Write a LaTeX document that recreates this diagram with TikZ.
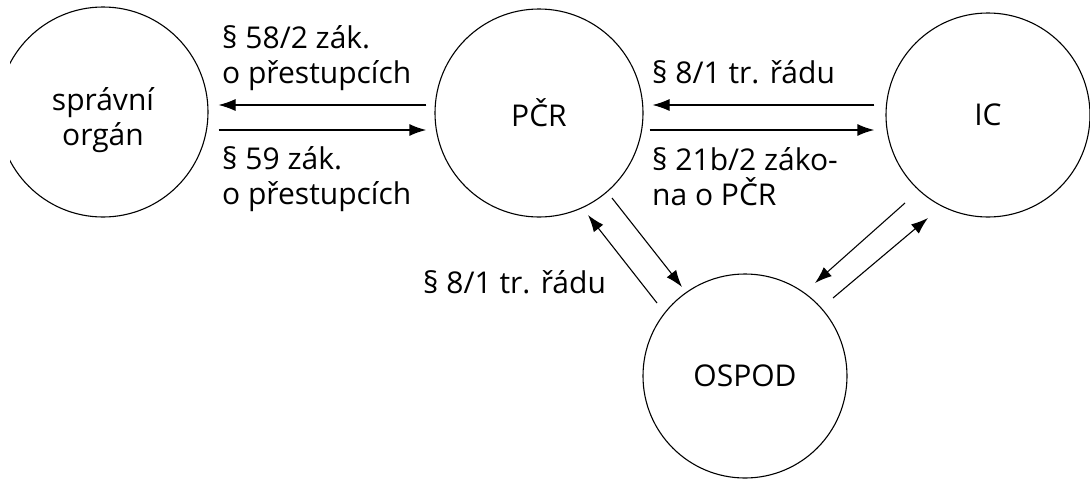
\documentclass[tikz,border=0pt]{standalone}
\usepackage{fontspec}
\setmainfont{Open Sans}
\usetikzlibrary{arrows.meta,calc}
\begin{document}
\begin{tikzpicture}[x=1pt,y=-1pt,
  circ/.style={draw,circle,line width=1.1pt,inner sep=0pt,align=center,font=\fontsize{30}{35}\selectfont},
  lab/.style={inner sep=0pt,align=left,font=\fontsize{30}{35}\selectfont,anchor=base west},
  arr/.style={line width=1.1pt,-{Latex[length=17pt,width=12pt]}},
  arrb/.style={arr,line width=1.8pt}]
\useasboundingbox (0,0) rectangle (1090,480);
\begin{scope}
  \clip (10,0) rectangle (1090,480);
  \node[circ,minimum size=210pt] (so) at (103,112) {\rule{0pt}{40pt}správní\\orgán};
\end{scope}
\node[circ,minimum size=208pt] (pcr) at (539,113) {PČR};
\node[circ,minimum size=204pt] (ic) at (988,115) {IC};
\node[circ,minimum size=204pt] (ospod) at (745,376) {OSPOD};

\draw[arr]  ($(pcr.west)+(-8,-8)$) -- ($(so.east)+(10,-7)$);
\draw[arrb] ($(so.east)+(10,18)$) -- ($(pcr.west)+(-8,17)$);
\draw[arr]  ($(ic.west)+(-11,-10)$) -- ($(pcr.east)+(9,-8)$);
\draw[arrb] ($(pcr.east)+(6,17)$) -- ($(ic.west)+(-11,15)$);

\draw[arr] ($(ospod)+(-88,-73)$) -- ($(pcr)+(49,102)$);
\draw[arr] ($(pcr)+(73,85)$) -- ($(ospod)+(-63,-89)$);
\draw[arr] ($(ic)+(-83,88)$) -- ($(ospod)+(70,-93)$);
\draw[arr] ($(ospod)+(88,-78)$) -- ($(ic)+(-60,103)$);

\node[lab] (l1) at (222,83) {§ 58/2 zák.\\o přestupcích};
\node[lab] (l2) at (222,204) {§ 59 zák.\\o přestupcích};
\node[lab] (l3) at (652,83) {§ 8/1 tr. řádu};
\node[lab] (l4) at (652,205) {§ 21b/2 záko-\\na o PČR};
\node[lab] (l5) at (423,293) {§ 8/1 tr. řádu};
\end{tikzpicture}
\end{document}
